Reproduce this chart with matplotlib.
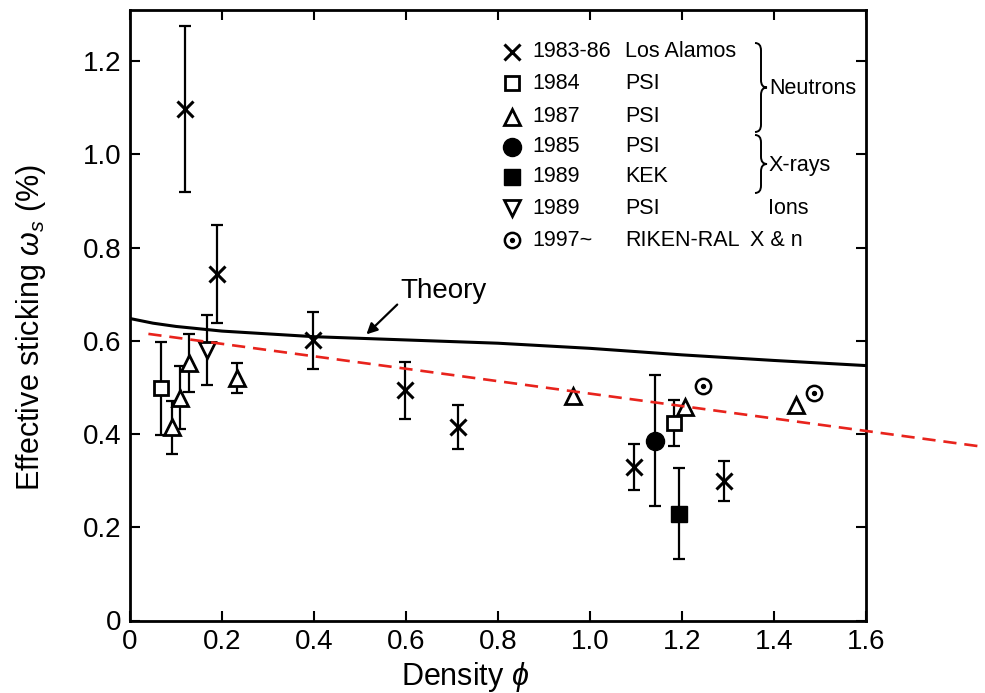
import numpy as np
import matplotlib
matplotlib.use("Agg")
import matplotlib.pyplot as plt
from matplotlib.path import Path
from matplotlib.patches import PathPatch

plt.rcParams['font.family'] = ['Liberation Sans', 'DejaVu Sans']
plt.rcParams['mathtext.fontset'] = 'custom'
plt.rcParams['mathtext.rm'] = 'Liberation Sans'
plt.rcParams['mathtext.it'] = 'Liberation Sans:italic'

# ---------------- data ----------------
la_x = [0.12, 0.19, 0.397, 0.598, 0.714, 1.096, 1.292]
la_y = [1.097, 0.743, 0.601, 0.494, 0.415, 0.329, 0.299]
la_err = [0.178, 0.105, 0.062, 0.061, 0.048, 0.050, 0.043]

psi84_x = [0.067, 1.183]
psi84_y = [0.498, 0.424]
psi84_err = [0.100, 0.050]

psi87_x = [0.092, 0.109, 0.129, 0.232, 0.962, 1.207, 1.448]
psi87_y = [0.415, 0.478, 0.553, 0.521, 0.481, 0.458, 0.463]
psi87_err = [0.057, 0.068, 0.062, 0.032, 0.0, 0.0, 0.0]

psi85_x = [1.141]
psi85_y = [0.386]
psi85_err = [0.140]

kek89_x = [1.193]
kek89_y = [0.229]
kek89_err = [0.098]

psi89_x = [0.167]
psi89_y = [0.580]
psi89_err = [0.075]

riken_x = [1.245, 1.487]
riken_y = [0.503, 0.489]

theory_x = [0.0, 0.05, 0.1, 0.2, 0.4, 0.6, 0.8, 1.0, 1.2, 1.4, 1.6]
theory_y = [0.648, 0.638, 0.631, 0.621, 0.609, 0.602, 0.595, 0.584, 0.570, 0.558, 0.547]

fit_x = [0.04, 1.86]
fit_y = [0.615, 0.372]

xticks = [0, 0.2, 0.4, 0.6, 0.8, 1.0, 1.2, 1.4, 1.6]
xticklabels = ['0', '0.2', '0.4', '0.6', '0.8', '1.0', '1.2', '1.4', '1.6']
yticks = [0, 0.2, 0.4, 0.6, 0.8, 1.0, 1.2]
yticklabels = ['0', '0.2', '0.4', '0.6', '0.8', '1.0', '1.2']

legend_years = ['1983-86', '1984', '1987', '1985', '1989', '1989', '1997~']
legend_labs = ['Los Alamos', 'PSI', 'PSI', 'PSI', 'KEK', 'PSI', 'RIKEN-RAL']

# ---------------- figure ----------------
fig = plt.figure(figsize=(9.85, 6.93), dpi=100)
ax = fig.add_axes([130/985, 1-620.5/693, 736/985, 610.5/693])
ax.set_xlim(0, 1.6)
ax.set_ylim(0, 1.31)

LW = 1.6
eb_kw = dict(ecolor='black', elinewidth=LW, capsize=4, capthick=LW, ls='none')

def err_series(x, y, e, **mk):
    x = np.array(x); y = np.array(y); e = np.array(e)
    m = e > 0
    if m.any():
        ax.errorbar(x[m], y[m], yerr=e[m], fmt='none', zorder=2, **eb_kw)
    ax.plot(x, y, ls='none', zorder=3, **mk)

# theory
ax.plot(theory_x, theory_y, color='black', lw=2.2, zorder=2)
# red dashed fit
ax.plot(fit_x, fit_y, color='#e8231c', lw=1.9, ls=(0, (5, 3)), clip_on=False, zorder=4)

mk_x = dict(marker='x', ms=11, mew=2.2, color='black')
mk_sq = dict(marker='s', ms=10, mfc='white', mec='black', mew=2.0)
mk_tri = dict(marker='^', ms=11, mfc='white', mec='black', mew=2.0)
mk_circ = dict(marker='o', ms=13, mfc='black', mec='black')
mk_fsq = dict(marker='s', ms=12, mfc='black', mec='black')
mk_itri = dict(marker='v', ms=11, mfc='white', mec='black', mew=2.0)
mk_odot = dict(marker='o', ms=11, mfc='white', mec='black', mew=1.8)
mk_dot = dict(marker='o', ms=2.8, mfc='black', mec='black')

err_series(la_x, la_y, la_err, **mk_x)
err_series(psi84_x, psi84_y, psi84_err, **mk_sq)
err_series(psi87_x, psi87_y, psi87_err, **mk_tri)
err_series(psi85_x, psi85_y, psi85_err, **mk_circ)
err_series(kek89_x, kek89_y, kek89_err, **mk_fsq)
err_series(psi89_x, psi89_y, psi89_err, **mk_itri)
ax.plot(riken_x, riken_y, ls='none', zorder=3, **mk_odot)
ax.plot(riken_x, riken_y, ls='none', zorder=3, **mk_dot)

# Theory annotation
ax.annotate('Theory', xy=(0.514, 0.614), xytext=(0.587, 0.706),
            fontsize=20, ha='left', va='center',
            arrowprops=dict(arrowstyle='-|>', color='black', lw=1.6,
                            mutation_scale=16, shrinkA=0, shrinkB=0,
                            relpos=(0.0, 0.1)))

# axes styling
ax.set_xticks(xticks)
ax.set_xticklabels(xticklabels)
ax.set_yticks(yticks)
ax.set_yticklabels(yticklabels)
ax.tick_params(direction='in', length=7, width=1.5, top=True, right=True,
               labelsize=20, pad=6)
for s in ax.spines.values():
    s.set_linewidth(2.0)
ax.set_xlabel(r'Density $\phi$', fontsize=22)
ax.set_ylabel(r'Effective sticking $\omega_s$ (%)', fontsize=22)
ax.xaxis.set_label_coords(0.455, -0.065)
ax.yaxis.set_label_coords(-0.111, 0.48)

# ---------------- manual legend ----------------
def px2ax(px, py):
    return ((px - 130) / 736, (620.5 - py) / 610.5)

row_py = [51.7, 83.3, 116.7, 146.7, 176.7, 208.3, 240.0]
leg_markers = [mk_x, mk_sq, mk_tri, mk_circ, mk_fsq, mk_itri, mk_odot]
T = ax.transAxes
for i, (py, yr, lab, mk) in enumerate(zip(row_py, legend_years, legend_labs, leg_markers)):
    mx, my = px2ax(512, py)
    ax.plot([mx], [my], transform=T, clip_on=False, ls='none', **mk)
    if i == 6:
        ax.plot([mx], [my], transform=T, clip_on=False, ls='none', **mk_dot)
    tx, ty = px2ax(532, py)
    ax.text(tx, ty, yr, transform=T, fontsize=15.5, ha='left', va='center')
    lx, ly = px2ax(625, py)
    ax.text(lx, ly, lab, transform=T, fontsize=15.5, ha='left', va='center')

def brace(px, py0, py1, w):
    x0, y0 = px2ax(px, py0)
    x1, y1 = px2ax(px + w, py1)
    xm = (x0 + x1) / 2
    xt = x1
    ym = (y0 + y1) / 2
    hs = 0.012
    verts = [(x0, y0), (xm, y0), (xm, y0 - hs),
             (xm, ym + hs), (xm, ym), (xt, ym),
             (xm, ym), (xm, ym - hs),
             (xm, y1 + hs), (xm, y1), (x0, y1)]
    codes = [Path.MOVETO, Path.CURVE3, Path.CURVE3,
             Path.LINETO, Path.CURVE3, Path.CURVE3,
             Path.CURVE3, Path.CURVE3,
             Path.LINETO, Path.CURVE3, Path.CURVE3]
    ax.add_patch(PathPatch(Path(verts, codes), transform=T, fill=False,
                           lw=1.4, color='black', clip_on=False))

brace(755, 43, 132, 12)
brace(755, 135, 193, 12)
for txt, px, py in [('Neutrons', 769, 88), ('X-rays', 769, 165), ('Ions', 768, 208), ('X & n', 750, 240)]:
    x, y = px2ax(px, py)
    ax.text(x, y, txt, transform=T, fontsize=15.5, ha='left', va='center')

fig.savefig('out.png', dpi=100)
